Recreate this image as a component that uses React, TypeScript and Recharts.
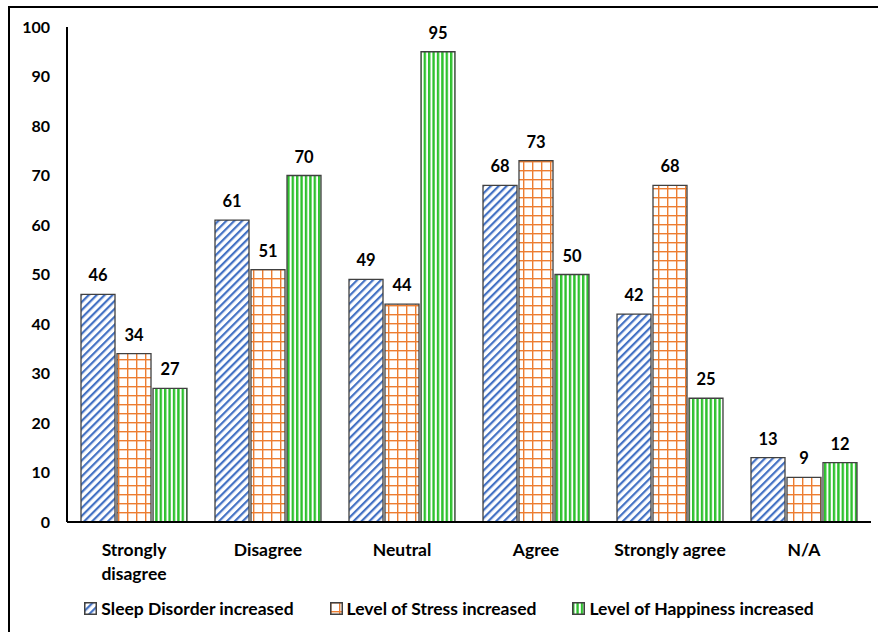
import { BarChart, Bar, XAxis, YAxis, Legend, LabelList } from "recharts";

// categories (a "\n" splits the tick label into lines)
const categories = ["Strongly\ndisagree", "Disagree", "Neutral", "Agree", "Strongly agree", "N/A"];
const sleepDisorder = [46, 61, 49, 68, 42, 13];
const stress = [34, 51, 44, 73, 68, 9];
const happiness = [27, 70, 95, 50, 25, 12];
const yTicks = [0, 10, 20, 30, 40, 50, 60, 70, 80, 90, 100];

const seriesNames = [
  "Sleep Disorder increased",
  "Level of Stress increased",
  "Level of Happiness increased",
];

const data = categories.map((c, i) => ({
  name: c,
  sleep: sleepDisorder[i],
  stress: stress[i],
  happy: happiness[i],
}));

const FONT = "Lato, 'Open Sans', sans-serif";
const fills = ["url(#pat-blue)", "url(#pat-orange)", "url(#pat-green)"];

// patterns live in their own tiny svg; ids are global to the page
function Patterns() {
  return (
    <svg width={0} height={0} style={{ position: "absolute" }}>
      <defs>
        <pattern id="pat-blue" patternUnits="userSpaceOnUse" width={5.6} height={5.6} patternTransform="rotate(45)">
          <rect width={5.6} height={5.6} fill="#fff" />
          <rect width={2.2} height={5.6} fill="#4472C4" />
        </pattern>
        <pattern id="pat-orange" patternUnits="userSpaceOnUse" width={9} height={9}>
          <rect width={9} height={9} fill="#fff" />
          <rect x={0} y={0} width={1.4} height={9} fill="#ED7D31" />
          <rect x={0} y={0} width={9} height={1.4} fill="#ED7D31" />
        </pattern>
        <pattern id="pat-green" patternUnits="userSpaceOnUse" width={4.4} height={4.4}>
          <rect width={4.4} height={4.4} fill="#fff" />
          <rect width={2.4} height={4.4} fill="#2EC12E" />
        </pattern>
      </defs>
    </svg>
  );
}

function CategoryTick({ x, y, payload }: any) {
  const lines = String(payload.value).split("\n");
  return (
    <text x={x} y={y} textAnchor="middle" fontFamily={FONT} fontWeight={700} fontSize={17.5} fill="#000">
      {lines.map((l, i) => (
        <tspan key={i} x={x} dy={i === 0 ? 32 : 24}>
          {l}
        </tspan>
      ))}
    </text>
  );
}

function LegendRow() {
  return (
    <div style={{ display: "flex", justifyContent: "center", gap: 36, fontFamily: FONT, fontWeight: 700, fontSize: 17.5, color: "#000" }}>
      {seriesNames.map((n, i) => (
        <div key={n} style={{ display: "flex", alignItems: "center", gap: 4 }}>
          <svg width={13} height={13}>
            <rect x={0.75} y={0.75} width={11.5} height={11.5} fill={fills[i]} stroke="#404040" strokeWidth={1.5} />
          </svg>
          <span>{n}</span>
        </div>
      ))}
    </div>
  );
}

export default function App() {
  return (
    <div
      style={{
        position: "absolute",
        left: 8,
        top: 6,
        width: 870,
        height: 626,
        borderLeft: "2px solid #000",
        borderTop: "2px solid #000",
        boxSizing: "border-box",
        background: "#fff",
      }}
    >
      <Patterns />
      <BarChart
        width={862}
        height={624}
        data={data}
        margin={{ top: 19, right: 1, bottom: 40, left: 0 }}
        barSize={34}
        barGap={2}
      >
        <XAxis
          dataKey="name"
          height={70}
          tickLine={false}
          tickSize={0}
          axisLine={{ stroke: "#000", strokeWidth: 2 }}
          tick={<CategoryTick />}
          interval={0}
        />
        <YAxis
          width={57}
          domain={[0, 100]}
          ticks={yTicks}
          interval={0}
          tickLine={false}
          tickSize={0}
          tickMargin={17}
          axisLine={{ stroke: "#000", strokeWidth: 2 }}
          tick={{ fontFamily: FONT, fontWeight: 700, fontSize: 16, fill: "#000" }}
        />
        <Legend
          layout="horizontal"
          verticalAlign="middle"
          content={<LegendRow />}
          wrapperStyle={{ top: 590, left: 8, width: 862 }}
        />
        <Bar dataKey="sleep" name={seriesNames[0]} fill={fills[0]} stroke="#404040" strokeWidth={1.3} isAnimationActive={false}>
          <LabelList dataKey="sleep" position="top" offset={13} fontFamily={FONT} fontWeight={700} fontSize={16.5} fill="#000" />
        </Bar>
        <Bar dataKey="stress" name={seriesNames[1]} fill={fills[1]} stroke="#404040" strokeWidth={1.3} isAnimationActive={false}>
          <LabelList dataKey="stress" position="top" offset={13} fontFamily={FONT} fontWeight={700} fontSize={16.5} fill="#000" />
        </Bar>
        <Bar dataKey="happy" name={seriesNames[2]} fill={fills[2]} stroke="#404040" strokeWidth={1.3} isAnimationActive={false}>
          <LabelList dataKey="happy" position="top" offset={13} fontFamily={FONT} fontWeight={700} fontSize={16.5} fill="#000" />
        </Bar>
      </BarChart>
    </div>
  );
}
